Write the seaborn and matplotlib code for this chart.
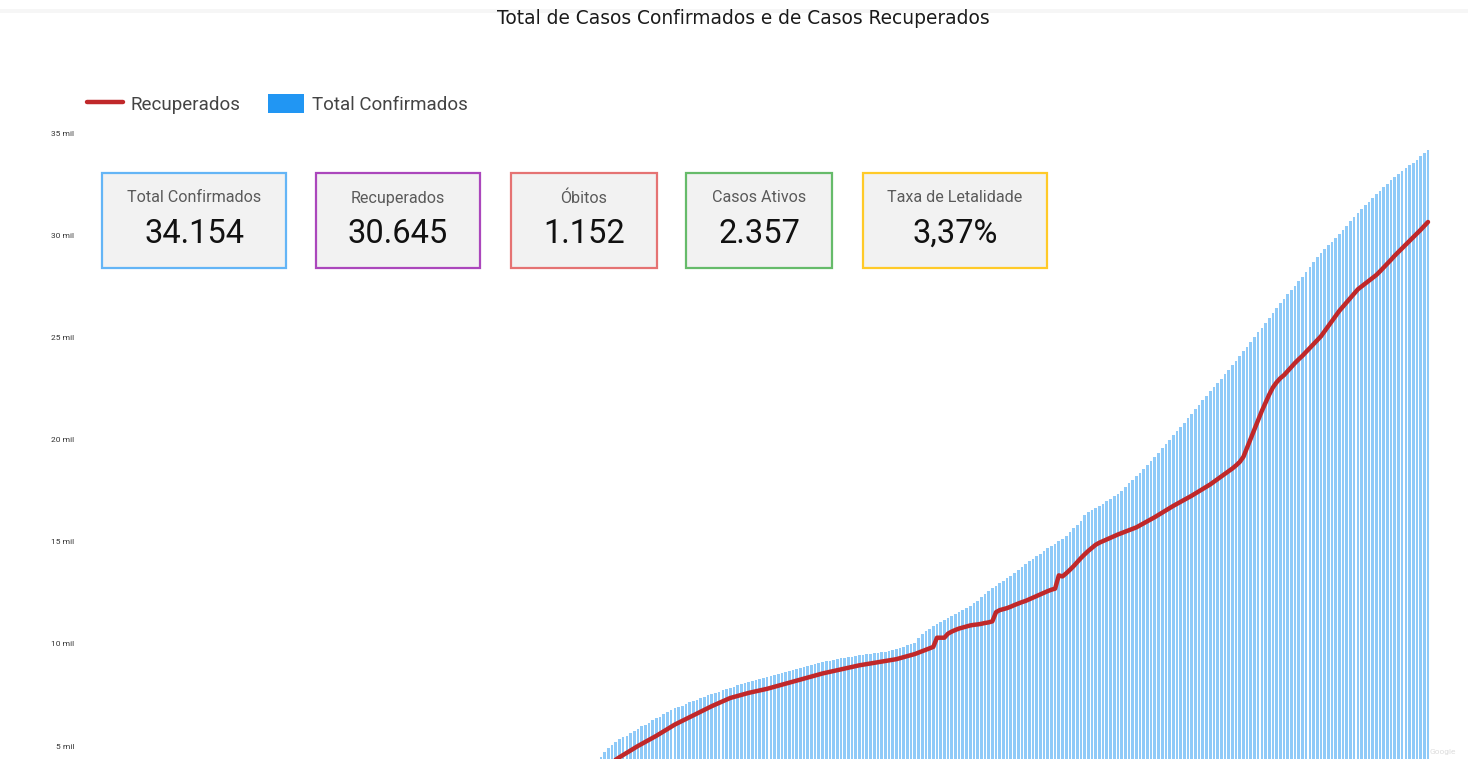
import matplotlib
matplotlib.use("Agg")
import matplotlib.pyplot as plt
from matplotlib.lines import Line2D
from matplotlib.patches import Patch, Rectangle
import seaborn as sns
import numpy as np
import pandas as pd

# ---------------- data (cases, one value per day) ----------------
total_confirmados = [
    4450, 4700, 4900, 5050, 5200, 5350,
    5420, 5510, 5640, 5750, 5850,
    5960, 6050, 6150, 6270, 6350,
    6440, 6560, 6650, 6760, 6850,
    6900, 6980, 7050, 7130, 7200,
    7250, 7330, 7400, 7480, 7550,
    7600, 7660, 7720, 7790, 7850,
    7910, 7980, 8030, 8090, 8150,
    8190, 8240, 8290, 8350, 8400,
    8430, 8470, 8510, 8560, 8600,
    8650, 8700, 8750, 8800, 8850,
    8900, 8950, 9000, 9060, 9100,
    9140, 9180, 9220, 9260, 9300,
    9320, 9350, 9380, 9420, 9450,
    9460, 9480, 9500, 9530, 9550,
    9580, 9620, 9660, 9710, 9750,
    9800, 9860, 9920, 9990, 10050,
    10300, 10500, 10620, 10740, 10850,
    10950, 11050, 11150, 11250, 11350,
    11450, 11550, 11650, 11750, 11850,
    11980, 12120, 12280, 12450, 12600,
    12720, 12840, 12960, 13080, 13200,
    13320, 13470, 13610, 13760, 13900,
    14030, 14160, 14290, 14420, 14550,
    14670, 14790, 14910, 15030, 15150,
    15300, 15480, 15660, 15830, 16000,
    16300, 16450, 16560, 16660, 16750,
    16860, 16980, 17100, 17220, 17350,
    17500, 17680, 17850, 18020, 18200,
    18380, 18570, 18760, 18950, 19150,
    19350, 19560, 19780, 19990, 20200,
    20400, 20620, 20830, 21040, 21250,
    21470, 21690, 21910, 22130, 22350,
    22560, 22770, 22980, 23190, 23400,
    23630, 23860, 24090, 24320, 24550,
    24780, 25010, 25240, 25470, 25700,
    25940, 26180, 26420, 26660, 26900,
    27110, 27320, 27530, 27740, 27950,
    28190, 28430, 28670, 28910, 29150,
    29330, 29510, 29690, 29870, 30050,
    30260, 30470, 30680, 30890, 31100,
    31280, 31460, 31640, 31820, 32000,
    32170, 32340, 32510, 32680, 32850,
    32990, 33130, 33270, 33410, 33550,
    33700, 33850, 34000, 34154,
]
recuperados = [
    3900, 4000, 4100, 4200, 4330, 4450,
    4560, 4670, 4780, 4890, 5000,
    5100, 5200, 5300, 5400, 5500,
    5610, 5720, 5830, 5940, 6050,
    6140, 6230, 6320, 6410, 6500,
    6590, 6680, 6770, 6860, 6950,
    7030, 7110, 7190, 7270, 7350,
    7400, 7450, 7500, 7550, 7600,
    7640, 7680, 7720, 7760, 7800,
    7850, 7900, 7950, 8000, 8050,
    8100, 8150, 8200, 8250, 8300,
    8350, 8400, 8450, 8500, 8550,
    8590, 8630, 8670, 8710, 8750,
    8790, 8830, 8870, 8910, 8950,
    8980, 9010, 9040, 9070, 9100,
    9130, 9160, 9190, 9220, 9250,
    9300, 9350, 9400, 9450, 9500,
    9570, 9640, 9710, 9780, 9850,
    10300, 10300, 10300, 10500, 10600,
    10680, 10750, 10800, 10850, 10900,
    10930, 10950, 10980, 11020, 11050,
    11100, 11550, 11650, 11700, 11750,
    11820, 11900, 11970, 12040, 12100,
    12180, 12260, 12340, 12420, 12500,
    12580, 12650, 12700, 13350, 13300,
    13450, 13620, 13800, 14000, 14200,
    14380, 14550, 14700, 14850, 14950,
    15030, 15110, 15190, 15270, 15350,
    15420, 15490, 15560, 15630, 15700,
    15800, 15900, 16000, 16100, 16200,
    16310, 16420, 16530, 16640, 16750,
    16850, 16950, 17050, 17150, 17250,
    17360, 17470, 17580, 17690, 17800,
    17930, 18060, 18190, 18320, 18450,
    18580, 18730, 18900, 19150, 19600,
    20050, 20500, 20950, 21400, 21800,
    22200, 22550, 22800, 23000, 23150,
    23350, 23550, 23750, 23930, 24100,
    24290, 24480, 24670, 24860, 25050,
    25300, 25550, 25800, 26050, 26300,
    26510, 26720, 26930, 27140, 27350,
    27490, 27630, 27770, 27910, 28050,
    28230, 28420, 28610, 28800, 29000,
    29180, 29360, 29540, 29720, 29900,
    30080, 30260, 30450, 30645,
]
y_ticks = [5000, 10000, 15000, 20000, 25000, 30000, 35000]
y_tick_labels = ["5 mil", "10 mil", "15 mil", "20 mil", "25 mil", "30 mil", "35 mil"]

kpi_labels = ["Total Confirmados", "Recuperados", "Óbitos", "Casos Ativos", "Taxa de Letalidade"]
kpi_values = ["34.154", "30.645", "1.152", "2.357", "3,37%"]
kpi_colors = ["#64B5F6", "#AB47BC", "#E57373", "#66BB6A", "#FFCA28"]

title = "Total de Casos Confirmados e de Casos Recuperados"
legend_labels = ["Recuperados", "Total Confirmados"]

# ---------------- figure ----------------
W, H = 1468, 759
sns.set_theme(style="white")
plt.rcParams["font.family"] = ["Roboto", "DejaVu Sans"]

fig = plt.figure(figsize=(W / 100, H / 100), dpi=100)
fig.patch.set_facecolor("white")

def fx(px):
    return px / W

def fy(py):
    return 1 - py / H

# plot area (pixel geometry of reference)
left_px, right_px = 80, 1440
top_px, bottom_px = 133, 759
ax = fig.add_axes([fx(left_px), fy(bottom_px), fx(right_px - left_px), (bottom_px - top_px) / H])

df = pd.DataFrame({
    "dia": np.arange(len(total_confirmados)),
    "Total Confirmados": total_confirmados,
    "Recuperados": recuperados,
})

sns.barplot(data=df, x="dia", y="Total Confirmados", native_scale=True,
            color="#2196F3", saturation=1, alpha=0.5, width=0.72, linewidth=0, ax=ax)
sns.lineplot(data=df, x="dia", y="Recuperados", color="#C0282A",
             linewidth=3.2, ax=ax, zorder=5)

n = len(total_confirmados)
spacing = (1428 - 601) / (n - 1)
ax.set_xlim(-(601 - left_px) / spacing, (n - 1) + (right_px - 1428) / spacing)
ax.set_ylim(4364, 35000)

ax.set_yticks(y_ticks)
ax.set_yticklabels(y_tick_labels, fontsize=6, color="#333333")
ax.tick_params(axis="y", length=0, pad=4)
ax.set_xticks([])
ax.set_xlabel("")
ax.set_ylabel("")
for s in ax.spines.values():
    s.set_visible(False)
ax.grid(False)

# title
fig.text(fx(743), fy(19), title, ha="center", va="center",
         fontsize=13.4, color="#1a1a1a", family=["DejaVu Sans"])

# faint top band
fig.add_artist(Rectangle((0, fy(13)), 1.0, 4 / H, transform=fig.transFigure,
                         facecolor="#f6f6f6", edgecolor="none"))

# legend
handles = [Line2D([0], [0], color="#C0282A", lw=3.2),
           Patch(facecolor="#2196F3", edgecolor="none")]
fig.legend(handles, legend_labels, loc="center left",
           bbox_to_anchor=(fx(70), fy(104)), ncol=2, frameon=False,
           fontsize=13.5, handlelength=1.9, handleheight=1.2,
           handletextpad=0.45, columnspacing=1.45, labelcolor="#444444")

# KPI boxes
boxes_px = [(102, 286), (316, 480), (511, 657), (686, 832), (863, 1047)]
box_top, box_bot = 173, 268
for (x0, x1), lab, val, col in zip(boxes_px, kpi_labels, kpi_values, kpi_colors):
    fig.add_artist(Rectangle((fx(x0), fy(box_bot)), fx(x1 - x0), (box_bot - box_top) / H,
                             transform=fig.transFigure, facecolor="#f2f2f2",
                             edgecolor=col, linewidth=1.6, zorder=10))
    cx = (x0 + x1) / 2
    fig.text(fx(cx), fy(198), lab, ha="center", va="center", fontsize=11.6,
             color="#5a5a5a", zorder=11)
    fig.text(fx(cx), fy(234), val, ha="center", va="center", fontsize=23.5,
             color="#111111", zorder=11)

fig.text(fx(1443), fy(752), "Google", ha="center", va="center", fontsize=6,
         color="#dddddd")

fig.savefig("out.png", dpi=100, facecolor="white")
